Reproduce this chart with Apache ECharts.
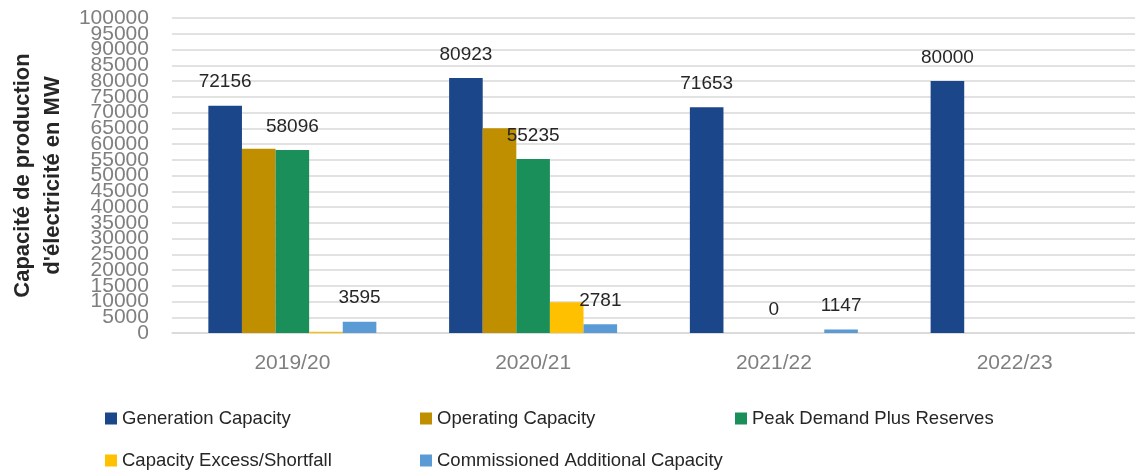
<!DOCTYPE html>
<html>
<head>
<meta charset="utf-8">
<script src="https://cdn.jsdelivr.net/npm/echarts@6/dist/echarts.min.js"></script>
<style>
  html, body { margin: 0; padding: 0; background: #fff; }
  #chart { width: 1135px; height: 474px; }
</style>
</head>
<body>
<div id="chart"></div>
<script>
// data
const years = ["2019/20", "2020/21", "2021/22", "2022/23"];
const generationCapacity = [72156, 80923, 71653, 80000];
const operatingCapacity = [58500, 65000, null, null];
const peakDemandPlusReserves = [58096, 55235, 0, null];
const capacityExcessShortfall = [400, 9765, null, null];
const commissionedAdditional = [3595, 2781, 1147, null];

const FONT = "'Liberation Sans', Arial, sans-serif";

const labelOn = {
  show: true,
  position: "top",
  distance: 14,
  color: "#262626",
  fontSize: 19,
  fontFamily: FONT
};

function bar(name, color, data, withLabel) {
  return {
    name: name,
    type: "bar",
    barWidth: 33.6,
    barGap: "0%",
    itemStyle: { color: color },
    label: withLabel ? labelOn : { show: false },
    data: data
  };
}

// one legend per column so the columns line up like the original
function legendCol(names, left) {
  return {
    data: names,
    orient: "vertical",
    left: left,
    top: 409,
    padding: 0,
    itemGap: 23,
    itemWidth: 12,
    itemHeight: 12,
    icon: "rect",
    textStyle: { color: "#262626", fontSize: 18.5, fontFamily: FONT }
  };
}

// the tick labels overlap in the original; echarts drops overlapping
// neighbours of min/max, so split them over two stacked axes
function yAxisLabels(odd) {
  return {
    color: "#7f7f7f",
    fontSize: 21,
    fontFamily: FONT,
    margin: 23,
    formatter: (v) => ((v / 5000) % 2 === (odd ? 1 : 0) ? String(v) : "")
  };
}

const chart = echarts.init(document.getElementById("chart"));
const option = {
  backgroundColor: "#fff",
  animation: false,
  grid: { left: 170, top: 18, width: 971, height: 315 },
  legend: [
    legendCol(["Generation Capacity", "Capacity Excess/Shortfall"], 105),
    legendCol(["Operating Capacity", "Commissioned Additional Capacity"], 420),
    legendCol(["Peak Demand Plus Reserves"], 735)
  ],
  xAxis: {
    type: "category",
    data: years,
    axisTick: { show: false },
    axisLine: { lineStyle: { color: "#d9d9d9", width: 1.5 } },
    axisLabel: { color: "#7f7f7f", fontSize: 21, fontFamily: FONT, margin: 20 }
  },
  yAxis: [
    {
      type: "value",
      position: "left",
      min: 0,
      max: 100000,
      interval: 5000,
      name: "Capacité de production\nd'électricité en MW",
      nameLocation: "middle",
      nameRotate: 90,
      nameGap: 99,
      nameTextStyle: {
        color: "#262626",
        fontSize: 22,
        fontWeight: "bold",
        fontFamily: FONT,
        lineHeight: 30
      },
      axisLine: { show: false },
      axisTick: { show: false },
      splitLine: { lineStyle: { color: "#d9d9d9", width: 1.5 } },
      axisLabel: yAxisLabels(false)
    },
    {
      type: "value",
      position: "left",
      offset: 0,
      min: 0,
      max: 100000,
      interval: 5000,
      axisLine: { show: false },
      axisTick: { show: false },
      splitLine: { show: false },
      axisLabel: yAxisLabels(true)
    }
  ],
  series: [
    bar("Generation Capacity", "#1b4689", generationCapacity, true),
    bar("Operating Capacity", "#bf8f00", operatingCapacity, false),
    bar("Peak Demand Plus Reserves", "#1b8f5a", peakDemandPlusReserves, true),
    bar("Capacity Excess/Shortfall", "#ffc000", capacityExcessShortfall, false),
    bar("Commissioned Additional Capacity", "#5b9bd5", commissionedAdditional, true)
  ]
};
chart.setOption(option);
</script>
</body>
</html>
